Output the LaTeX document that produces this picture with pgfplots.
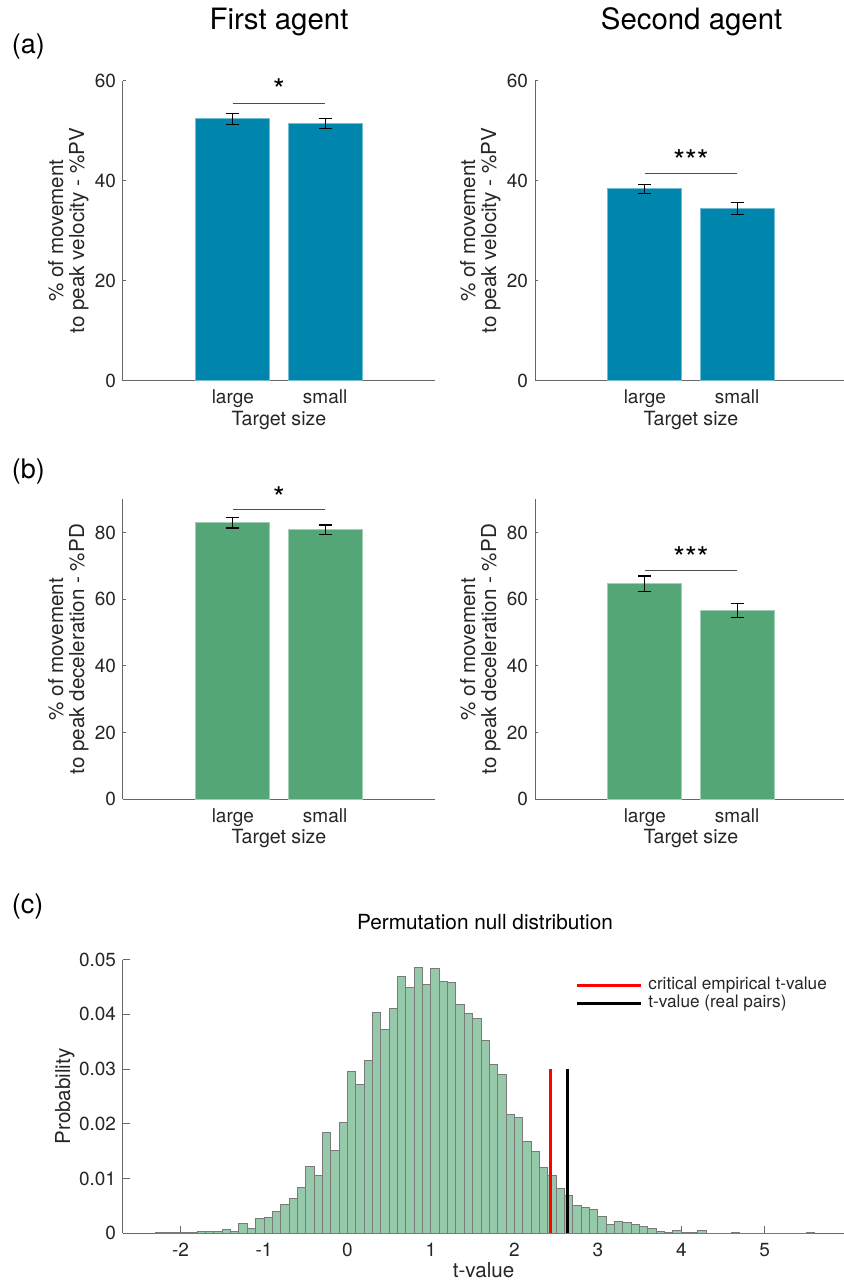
\documentclass[border=0pt]{standalone}
\usepackage{pgfplots}
\pgfplotsset{compat=1.18}
\usepackage{fontspec}
\setmainfont{TeX Gyre Heros}
\definecolor{barblue}{HTML}{0086AD}
\definecolor{bargreen}{HTML}{55A676}
\definecolor{histfill}{HTML}{96C8AA}
\definecolor{histedge}{HTML}{7A7A7A}
\definecolor{axgray}{HTML}{666666}
\definecolor{sigline}{HTML}{4D4D4D}
\definecolor{txt}{HTML}{262626}

\pgfplotsset{
  common/.style={
    scale only axis, anchor=south west,
    axis x line*=bottom, axis y line*=left,
    axis line style={axgray, line width=0.5pt},
    tick style={axgray, line width=0.5pt},
    tick align=inside,
    tick label style={font=\fontsize{9.5}{11}\selectfont, text=txt},
    yticklabel style={anchor=east, inner sep=0pt, xshift=-3.3pt},
    /pgf/number format/assume math mode=true,
  },
  barpanel/.style={
    common, width=156pt, height=150pt, clip=false,
    major tick length=1.7pt,
    xticklabel style={anchor=north, inner sep=0pt, yshift=-4.3pt},
    xmin=-0.19, xmax=3.19, ymin=0,
    xtick={1,2}, xticklabels={large,small},
    xlabel={Target size},
    xlabel style={at={(axis description cs:0.5,-0.1)}, anchor=north, inner sep=0pt, font=\fontsize{9.8}{11}\selectfont, text=txt},
    ylabel style={at={(axis description cs:-0.175,0.5)}, anchor=center, align=center, font=\fontsize{10.3}{10.5}\selectfont, text=txt},
  },
  barerr/.style={
    ybar, bar width=0.8, bar shift=0pt, line width=0.5pt,
    error bars/.cd, y dir=both, y explicit,
    error bar style={black, line width=0.6pt},
    error mark options={rotate=90, mark size=3.25pt, black, line width=0.6pt},
    /pgfplots/.cd,
  },
}

\begin{document}
\begin{tikzpicture}
\useasboundingbox (0pt,0pt) rectangle (422pt,640pt);

% ---------- (a) first agent ----------
\begin{axis}[barpanel, at={(61.5pt,449.65pt)}, ymax=60, ytick={0,20,40,60},
  ylabel={\% of movement\\to peak velocity - \%PV}]
\addplot[fill=barblue, draw=barblue!55!white, barerr] coordinates {(1,52.4) +- (0,1.1) (2,51.5) +- (0,1.0)};
\addplot[sigline, line width=0.5pt] coordinates {(1,55.5) (2,55.5)};
\node[font=\fontsize{15}{15}\selectfont, yshift=-3.2pt] at (axis cs:1.5,59.5) {*};
\end{axis}

% ---------- (a) second agent ----------
\begin{axis}[barpanel, at={(267.5pt,449.65pt)}, ymax=60, ytick={0,20,40,60},
  ylabel={\% of movement\\to peak velocity - \%PV}]
\addplot[fill=barblue, draw=barblue!55!white, barerr] coordinates {(1,38.35) +- (0,0.9) (2,34.45) +- (0,1.15)};
\addplot[sigline, line width=0.5pt] coordinates {(1,41.4) (2,41.4)};
\node[font=\fontsize{15}{15}\selectfont, yshift=-3.2pt] at (axis cs:1.5,45.3) {***};
\end{axis}

% ---------- (b) first agent ----------
\begin{axis}[barpanel, at={(61.5pt,240.35pt)}, ymax=90, ytick={0,20,40,60,80},
  ylabel={\% of movement\\to peak deceleration - \%PD}]
\addplot[fill=bargreen, draw=bargreen!55!white, barerr] coordinates {(1,83.0) +- (0,1.6) (2,80.85) +- (0,1.45)};
\addplot[sigline, line width=0.5pt] coordinates {(1,87.0) (2,87.0)};
\node[font=\fontsize{15}{15}\selectfont, yshift=-3.2pt] at (axis cs:1.5,92.3) {*};
\end{axis}

% ---------- (b) second agent ----------
\begin{axis}[barpanel, at={(267.5pt,240.35pt)}, ymax=90, ytick={0,20,40,60,80},
  ylabel={\% of movement\\to peak deceleration - \%PD}]
\addplot[fill=bargreen, draw=bargreen!55!white, barerr] coordinates {(1,64.65) +- (0,2.35) (2,56.65) +- (0,2.05)};
\addplot[sigline, line width=0.5pt] coordinates {(1,68.7) (2,68.7)};
\node[font=\fontsize{15}{15}\selectfont, yshift=-3.2pt] at (axis cs:1.5,74.5) {***};
\end{axis}

% ---------- (c) histogram ----------
\begin{axis}[common, at={(61.5pt,23.4pt)}, width=360.5pt, height=136.75pt,
  major tick length=3.5pt,
  xmin=-2.69, xmax=5.95, ymin=0, ymax=0.05,
  xtick={-2,-1,0,1,2,3,4,5}, xticklabels={-2,-1,0,1,2,3,4,5},
  ytick={0,0.01,0.02,0.03,0.04,0.05}, yticklabels={0,0.01,0.02,0.03,0.04,0.05},
  scaled y ticks=false,
  xticklabel style={anchor=north, inner sep=0pt, yshift=-4.8pt},
  xlabel={t-value},
  xlabel style={at={(axis description cs:0.5,-0.1042)}, anchor=north, inner sep=0pt, font=\fontsize{10.3}{11}\selectfont, text=txt},
  ylabel={Probability},
  ylabel style={at={(axis description cs:-0.0735,0.5)}, anchor=base, inner sep=0pt, font=\fontsize{10.3}{11}\selectfont, text=txt},
  legend style={draw=none, fill=none, inner sep=0pt, at={(0.6269,0.9404)}, anchor=north west,
    font=\fontsize{8.6}{9}\selectfont, text=txt, column sep=3pt,
    nodes={inner sep=0pt, text height=6.5pt, text depth=2.5pt}, cells={anchor=west}},
  legend image code/.code={\draw[#1] (0pt,0pt) -- (32pt,0pt);},
]
\addplot[ybar interval, fill=histfill, draw=histedge, line width=0.5pt, forget plot] table {
x y
-2.3 0.0001
-2.2 0.0001
-2.1 0.0001
-2.0 0.0002
-1.9 0.0002
-1.8 0.0003
-1.7 0.0004
-1.6 0.0004
-1.5 0.0006
-1.4 0.0004
-1.3 0.0018
-1.2 0.0009
-1.1 0.0027
-1.0 0.0029
-0.9 0.0040
-0.8 0.0052
-0.7 0.0064
-0.6 0.0084
-0.5 0.0122
-0.4 0.0106
-0.3 0.0184
-0.2 0.0151
-0.1 0.0203
0.0 0.0296
0.1 0.0272
0.2 0.0315
0.3 0.0404
0.4 0.0373
0.5 0.0410
0.6 0.0470
0.7 0.0449
0.8 0.0485
0.9 0.0454
1.0 0.0484
1.1 0.0460
1.2 0.0459
1.3 0.0418
1.4 0.0401
1.5 0.0393
1.6 0.0353
1.7 0.0309
1.8 0.0291
1.9 0.0217
2.0 0.0211
2.1 0.0168
2.2 0.0150
2.3 0.0120
2.4 0.0106
2.5 0.0081
2.6 0.0069
2.7 0.0050
2.8 0.0047
2.9 0.0044
3.0 0.0031
3.1 0.0016
3.2 0.0022
3.3 0.0020
3.4 0.0015
3.5 0.0013
3.6 0.0008
3.7 0.0003
3.8 0.0002
3.9 0.0005
4.0 0.0002
4.1 0.0001
4.2 0.0005
4.3 0.0000
4.4 0.0000
4.5 0.0000
4.6 0.0001
4.7 0.0000
4.8 0.0000
4.9 0.0000
5.0 0.0000
5.1 0.0000
5.2 0.0000
5.3 0.0000
5.4 0.0000
5.5 0.0001
5.6 0.0000
};
\addplot[red, line width=1.5pt] coordinates {(2.43,0) (2.43,0.03)};
\addlegendentry{critical empirical t-value}
\addplot[black, line width=1.5pt] coordinates {(2.64,0) (2.64,0.03)};
\addlegendentry{t-value (real pairs)}
\end{axis}

% ---------- titles and panel letters ----------
\node[anchor=base, font=\fontsize{14.7}{16}\selectfont] at (139.5pt,625.3pt) {First agent};
\node[anchor=base, font=\fontsize{14.7}{16}\selectfont] at (345.8pt,625.3pt) {Second agent};
\node[anchor=base west, inner sep=0pt, font=\fontsize{13.5}{15}\selectfont] at (5.7pt,613pt) {(a)};
\node[anchor=base west, inner sep=0pt, font=\fontsize{13.5}{15}\selectfont] at (5.7pt,400.8pt) {(b)};
\node[anchor=base west, inner sep=0pt, font=\fontsize{13.5}{15}\selectfont] at (5.7pt,183.3pt) {(c)};
\node[anchor=base, text=black, font=\fontsize{10.4}{12}\selectfont] at (242.5pt,175pt) {Permutation null distribution};
\end{tikzpicture}
\end{document}
